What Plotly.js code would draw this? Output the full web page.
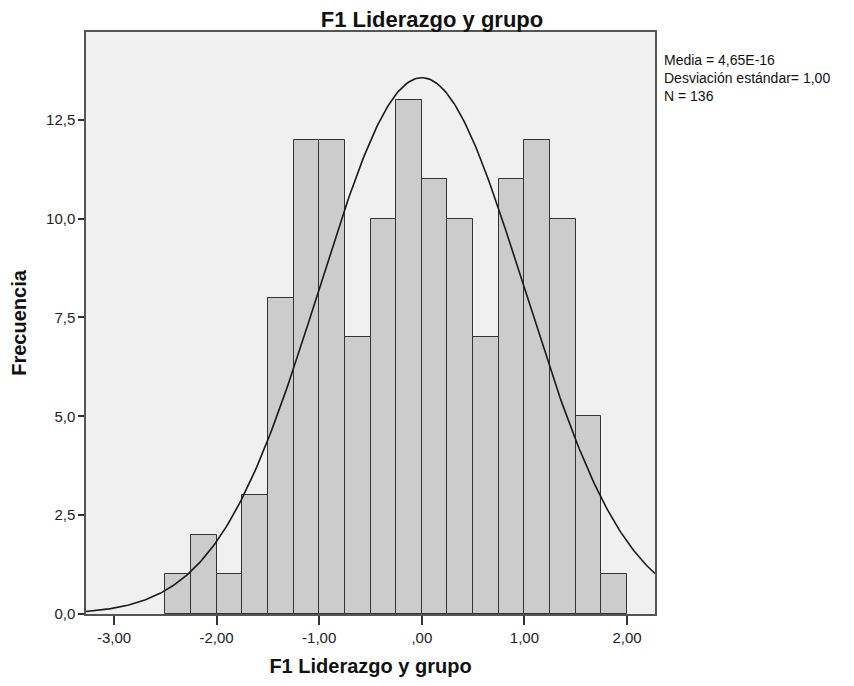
<!DOCTYPE html>
<html>
<head>
<meta charset="utf-8">
<script src="https://cdn.plot.ly/plotly-3.0.1.min.js"></script>
<style>
  html, body { margin: 0; padding: 0; background: #ffffff; }
  #chart { width: 854px; height: 686px; }
</style>
</head>
<body>
<div id="chart"></div>
<script>
// Histogram bins for F1 Liderazgo y grupo (width 0.25, from -2.50 to 2.00)
const binStart = -2.5;
const binWidth = 0.25;
const counts = [1, 2, 1, 3, 8, 12, 12, 7, 10, 13, 11, 10, 7, 11, 12, 10, 5, 1];

// Summary statistics shown beside the chart
const mean = 4.65e-16;
const stdDev = 1.0;
const nCases = 136;
const statLines = ["Media = 4,65E-16", "Desviación estándar= 1,00", "N = " + nCases];

// Axis ticks
const xTickVals = [-3, -2, -1, 0, 1, 2];
const xTickText = ["-3,00", "-2,00", "-1,00", ",00", "1,00", "2,00"];
const yTickVals = [0, 2.5, 5, 7.5, 10, 12.5];
const yTickText = ["0,0", "2,5", "5,0", "7,5", "10,0", "12,5"];

const xRange = [-3.273, 2.273];
const yRange = [0, 14.72];

const binCenters = counts.map((_, i) => binStart + binWidth * (i + 0.5));

// Normal curve scaled to frequency: N * binWidth * pdf(x)
const curveX = [];
const curveY = [];
const steps = 300;
for (let i = 0; i <= steps; i++) {
  const x = xRange[0] + (xRange[1] - xRange[0]) * i / steps;
  const z = (x - mean) / stdDev;
  curveX.push(x);
  curveY.push(nCases * binWidth * Math.exp(-0.5 * z * z) / (stdDev * Math.sqrt(2 * Math.PI)));
}

const font = "Liberation Sans, Arial, sans-serif";

const traces = [
  {
    type: "bar",
    x: binCenters,
    y: counts,
    width: binWidth,
    marker: { color: "#cccccc", line: { color: "#333333", width: 1 } },
    hoverinfo: "x+y"
  },
  {
    type: "scatter",
    mode: "lines",
    x: curveX,
    y: curveY,
    line: { color: "#1a1a1a", width: 1.6 },
    hoverinfo: "skip"
  }
];

// Plot area spans 32..614 px vertically
const plotTop = 32, plotBottom = 614;

const layout = {
  width: 854,
  height: 686,
  margin: { l: 86, r: 199, t: 32, b: 72 },
  paper_bgcolor: "#ffffff",
  plot_bgcolor: "#f0f0f0",
  showlegend: false,
  bargap: 0,
  font: { family: font, color: "#222222", size: 15 },
  title: {
    text: "<b>F1 Liderazgo y grupo</b>",
    font: { family: font, size: 22, color: "#111111" },
    x: 432 / 854,
    xanchor: "center",
    y: 1 - 19 / 686,
    yanchor: "middle"
  },
  xaxis: {
    range: xRange,
    tickvals: xTickVals,
    ticktext: xTickText,
    ticks: "outside",
    ticklen: 9,
    tickwidth: 1.5,
    tickcolor: "#333333",
    showgrid: false,
    zeroline: false,
    showline: true,
    mirror: true,
    linecolor: "#555555",
    linewidth: 1.5,
    tickfont: { family: font, size: 15, color: "#222222" },
    title: {
      text: "<b>F1 Liderazgo y grupo</b>",
      font: { family: font, size: 20, color: "#111111" },
      standoff: 14
    }
  },
  yaxis: {
    range: yRange,
    tickvals: yTickVals,
    ticktext: yTickText,
    ticks: "outside",
    ticklen: 6,
    tickwidth: 1.5,
    tickcolor: "#333333",
    showgrid: false,
    zeroline: false,
    showline: true,
    mirror: true,
    linecolor: "#555555",
    linewidth: 1.5,
    tickfont: { family: font, size: 15, color: "#222222" },
    title: {
      text: "<b>Frecuencia</b>",
      font: { family: font, size: 20, color: "#111111" },
      standoff: 14
    }
  },
  annotations: [
    {
      xref: "paper",
      yref: "paper",
      x: 1.012,
      y: (plotBottom - 78) / (plotBottom - plotTop),
      xanchor: "left",
      yanchor: "middle",
      align: "left",
      showarrow: false,
      text: statLines.join("<br>"),
      font: { family: font, size: 14, color: "#111111" }
    }
  ]
};

Plotly.newPlot("chart", traces, layout, { displayModeBar: false, responsive: false });
</script>
</body>
</html>
